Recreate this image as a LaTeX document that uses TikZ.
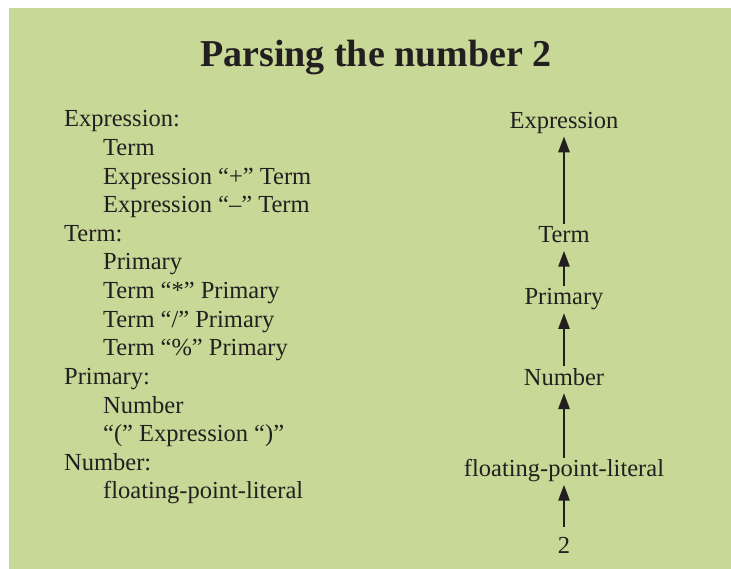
\documentclass[tikz,border=0pt]{standalone}
\usepackage{fontspec}
\setmainfont{Liberation Serif}
\usetikzlibrary{arrows.meta}
\definecolor{bg}{RGB}{200,216,150}
\definecolor{ink}{RGB}{35,31,32}
\begin{document}
\begin{tikzpicture}[x=1pt,y=-1pt,
  txt/.style={anchor=base west,inner sep=0pt,text=ink,font=\fontsize{24.5}{28}\selectfont},
  tree/.style={anchor=base,inner sep=0pt,outer sep=3pt,text height=16pt,text depth=5pt,text=ink,font=\fontsize{24.5}{28}\selectfont},
  up/.style={draw=ink,line width=2.7pt,-{Triangle[length=16pt,width=11pt]}}]
\useasboundingbox (0,0) rectangle (731,569);
\fill[bg] (9,8) rectangle (731,569);
\node[anchor=base,inner sep=0pt,text=ink,font=\fontsize{38}{40}\selectfont\bfseries] (title) at (376,67) {Parsing the number 2};
% grammar
\node[txt] (l1) at (64,127) {Expression:};
\node[txt] (l2) at (103,155.6) {Term};
\node[txt] (l3) at (103,184.2) {Expression “+” Term};
\node[txt] (l4) at (103,212.8) {Expression “–” Term};
\node[txt] (l5) at (64,241.4) {Term:};
\node[txt] (l6) at (103,270) {Primary};
\node[txt] (l7) at (103,298.6) {Term “*” Primary};
\node[txt] (l8) at (103,327.2) {Term “/” Primary};
\node[txt] (l9) at (103,355.8) {Term “\%” Primary};
\node[txt] (l10) at (64,384.4) {Primary:};
\node[txt] (l11) at (103,413) {Number};
\node[txt] (l12) at (103,441.6) {“(” Expression “)”};
\node[txt] (l13) at (64,470.2) {Number:};
\node[txt] (l14) at (103,498.8) {floating-point-literal};
% parse tree
\node[tree] (expr) at (564,128.3) {Expression};
\node[tree] (term) at (564,242.7) {Term};
\node[tree] (prim) at (564,305) {Primary};
\node[tree] (num) at (564,385) {Number};
\node[tree] (fpl) at (564,476.7) {floating-point-literal};
\node[tree] (two) at (564,553.3) {2};
\draw[up] (term) -- (expr);
\draw[up] (prim) -- (term);
\draw[up] (num) -- (prim);
\draw[up] (fpl) -- (num);
\draw[up,shorten <=7pt] (two) -- (fpl);
\end{tikzpicture}
\end{document}
